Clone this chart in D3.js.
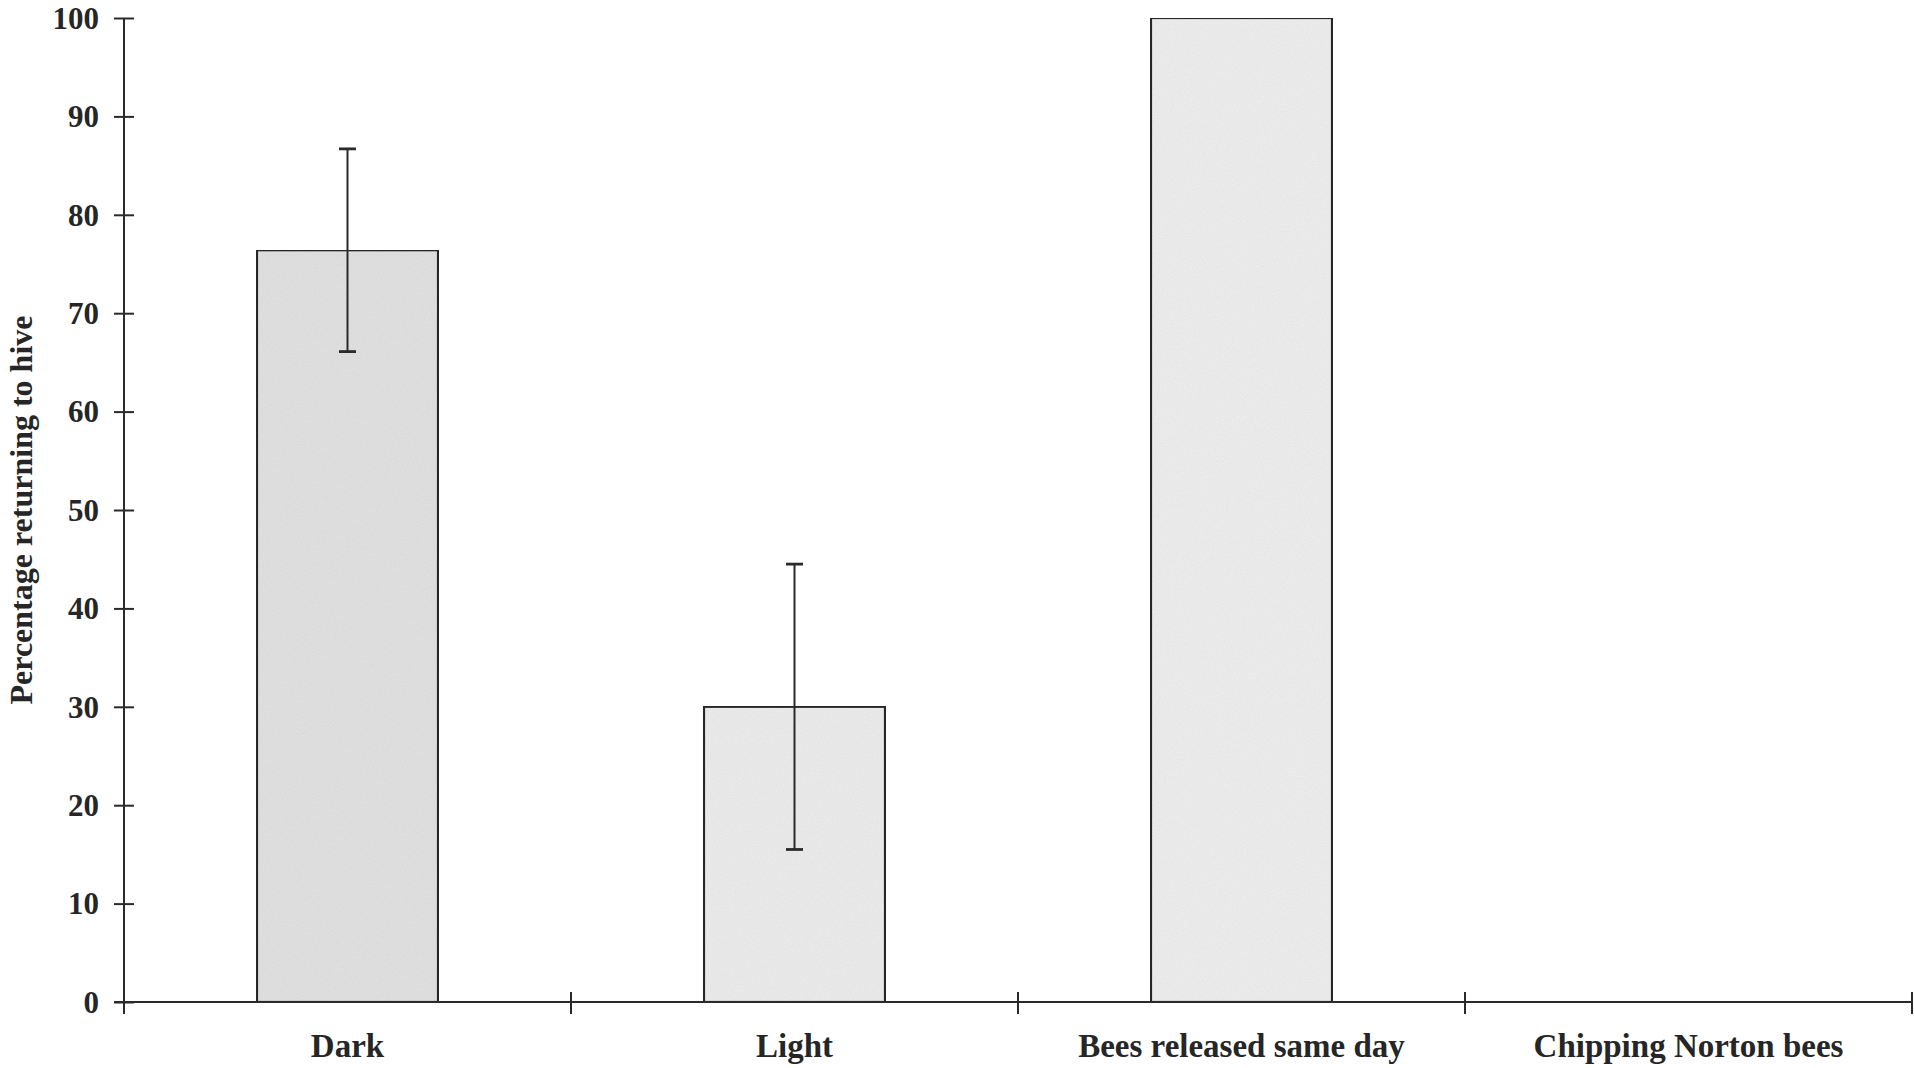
<!DOCTYPE html>
<html>
<head>
<meta charset="utf-8">
<script src="https://cdn.jsdelivr.net/npm/d3@7/dist/d3.min.js"></script>
<style>
  html, body { margin: 0; padding: 0; background: #fff; }
  svg { display: block; }
  text { font-family: "Liberation Serif", "Times New Roman", serif; font-weight: bold; fill: #262626; }
</style>
</head>
<body>
<svg id="chart" width="1914" height="1068"></svg>
<script>
const categories = ["Dark", "Light", "Bees released same day", "Chipping Norton bees"];
const values = [76.4, 30.0, 100, 0];
const errors = [10.3, 14.5, null, null];
const yTicks = [0, 10, 20, 30, 40, 50, 60, 70, 80, 90, 100];
const yLabel = "Percentage returning to hive";
const fills = ["#e3e3e3", "#eeeeee", "#f0f0f0", "#f0f0f0"];

const svg = d3.select("#chart");
const mLeft = 124, mRight = 1912, mTop = 18, mBottom = 1002;

const x = d3.scaleBand().domain(categories).range([mLeft, mRight]).paddingInner(0).paddingOuter(0);
const y = d3.scaleLinear().domain([0, 100]).range([mBottom, mTop]);

const barW = x.bandwidth() * 0.405;

// grain filter to mimic the printed texture
const defs = svg.append("defs");
const f = defs.append("filter").attr("id", "grain").attr("x", 0).attr("y", 0).attr("width", 1).attr("height", 1);
f.append("feTurbulence").attr("type", "fractalNoise").attr("baseFrequency", 0.9).attr("numOctaves", 2).attr("seed", 3).attr("result", "noise");
f.append("feColorMatrix").attr("in", "noise").attr("type", "matrix")
  .attr("values", "0 0 0 0 0  0 0 0 0 0  0 0 0 0 0  0 0 0 0.12 0").attr("result", "dots");
f.append("feComposite").attr("in", "dots").attr("in2", "SourceGraphic").attr("operator", "in").attr("result", "clipped");
f.append("feMerge").call(m => { m.append("feMergeNode").attr("in", "SourceGraphic"); m.append("feMergeNode").attr("in", "clipped"); });

// bars
svg.append("g").selectAll("rect")
  .data(categories.map((c, i) => ({c, v: values[i], e: errors[i], f: fills[i]})).filter(d => d.v > 0))
  .join("rect")
  .attr("x", d => x(d.c) + x.bandwidth() / 2 - barW / 2)
  .attr("y", d => y(d.v))
  .attr("width", barW)
  .attr("height", d => y(0) - y(d.v))
  .attr("fill", d => d.f)
  .attr("filter", "url(#grain)")
  .attr("stroke", "#2a2a2a")
  .attr("stroke-width", 2.2);

// error bars
const eb = svg.append("g").attr("stroke", "#2a2a2a");
categories.forEach((c, i) => {
  if (errors[i] == null) return;
  const cx = x(c) + x.bandwidth() / 2;
  const hi = values[i] + errors[i], lo = values[i] - errors[i];
  eb.append("line").attr("x1", cx).attr("x2", cx).attr("y1", y(hi)).attr("y2", y(lo)).attr("stroke-width", 2);
  [hi, lo].forEach(v => {
    eb.append("line").attr("x1", cx - 8.5).attr("x2", cx + 8.5).attr("y1", y(v)).attr("y2", y(v)).attr("stroke-width", 2.8);
  });
});

// y axis
const yAxis = svg.append("g")
  .attr("transform", `translate(${mLeft},0)`)
  .call(d3.axisLeft(y).tickValues(yTicks).tickSizeInner(10).tickSizeOuter(0).tickPadding(15));
yAxis.select(".domain").remove();
yAxis.selectAll(".tick line").attr("x1", 10).attr("x2", -10).attr("stroke", "#2a2a2a").attr("stroke-width", 2);
yAxis.selectAll(".tick text").style("font-size", "31px").attr("dy", "0.33em").attr("fill", "#262626");
svg.append("line").attr("x1", mLeft).attr("x2", mLeft).attr("y1", y(100)).attr("y2", mBottom + 12)
  .attr("stroke", "#2a2a2a").attr("stroke-width", 2);

// x axis: labels centered on bands
const xAxis = svg.append("g")
  .attr("transform", `translate(0,${mBottom})`)
  .call(d3.axisBottom(x).tickSize(0).tickPadding(32));
xAxis.select(".domain").remove();
xAxis.selectAll(".tick text").style("font-size", "33px").attr("fill", "#262626");
svg.append("line").attr("x1", mLeft - 10).attr("x2", mRight).attr("y1", mBottom).attr("y2", mBottom)
  .attr("stroke", "#2a2a2a").attr("stroke-width", 2.2);
// boundary ticks
const bounds = categories.slice(1).map(c => x(c)).concat([x.range()[1]]);
svg.append("g").selectAll("line").data(bounds).join("line")
  .attr("x1", d => d).attr("x2", d => d).attr("y1", mBottom - 10).attr("y2", mBottom + 12)
  .attr("stroke", "#2a2a2a").attr("stroke-width", 2);

// y label
svg.append("text")
  .attr("transform", `translate(32,${(mTop + mBottom) / 2}) rotate(-90)`)
  .attr("text-anchor", "middle")
  .style("font-size", "32px")
  .text(yLabel);
</script>
</body>
</html>
